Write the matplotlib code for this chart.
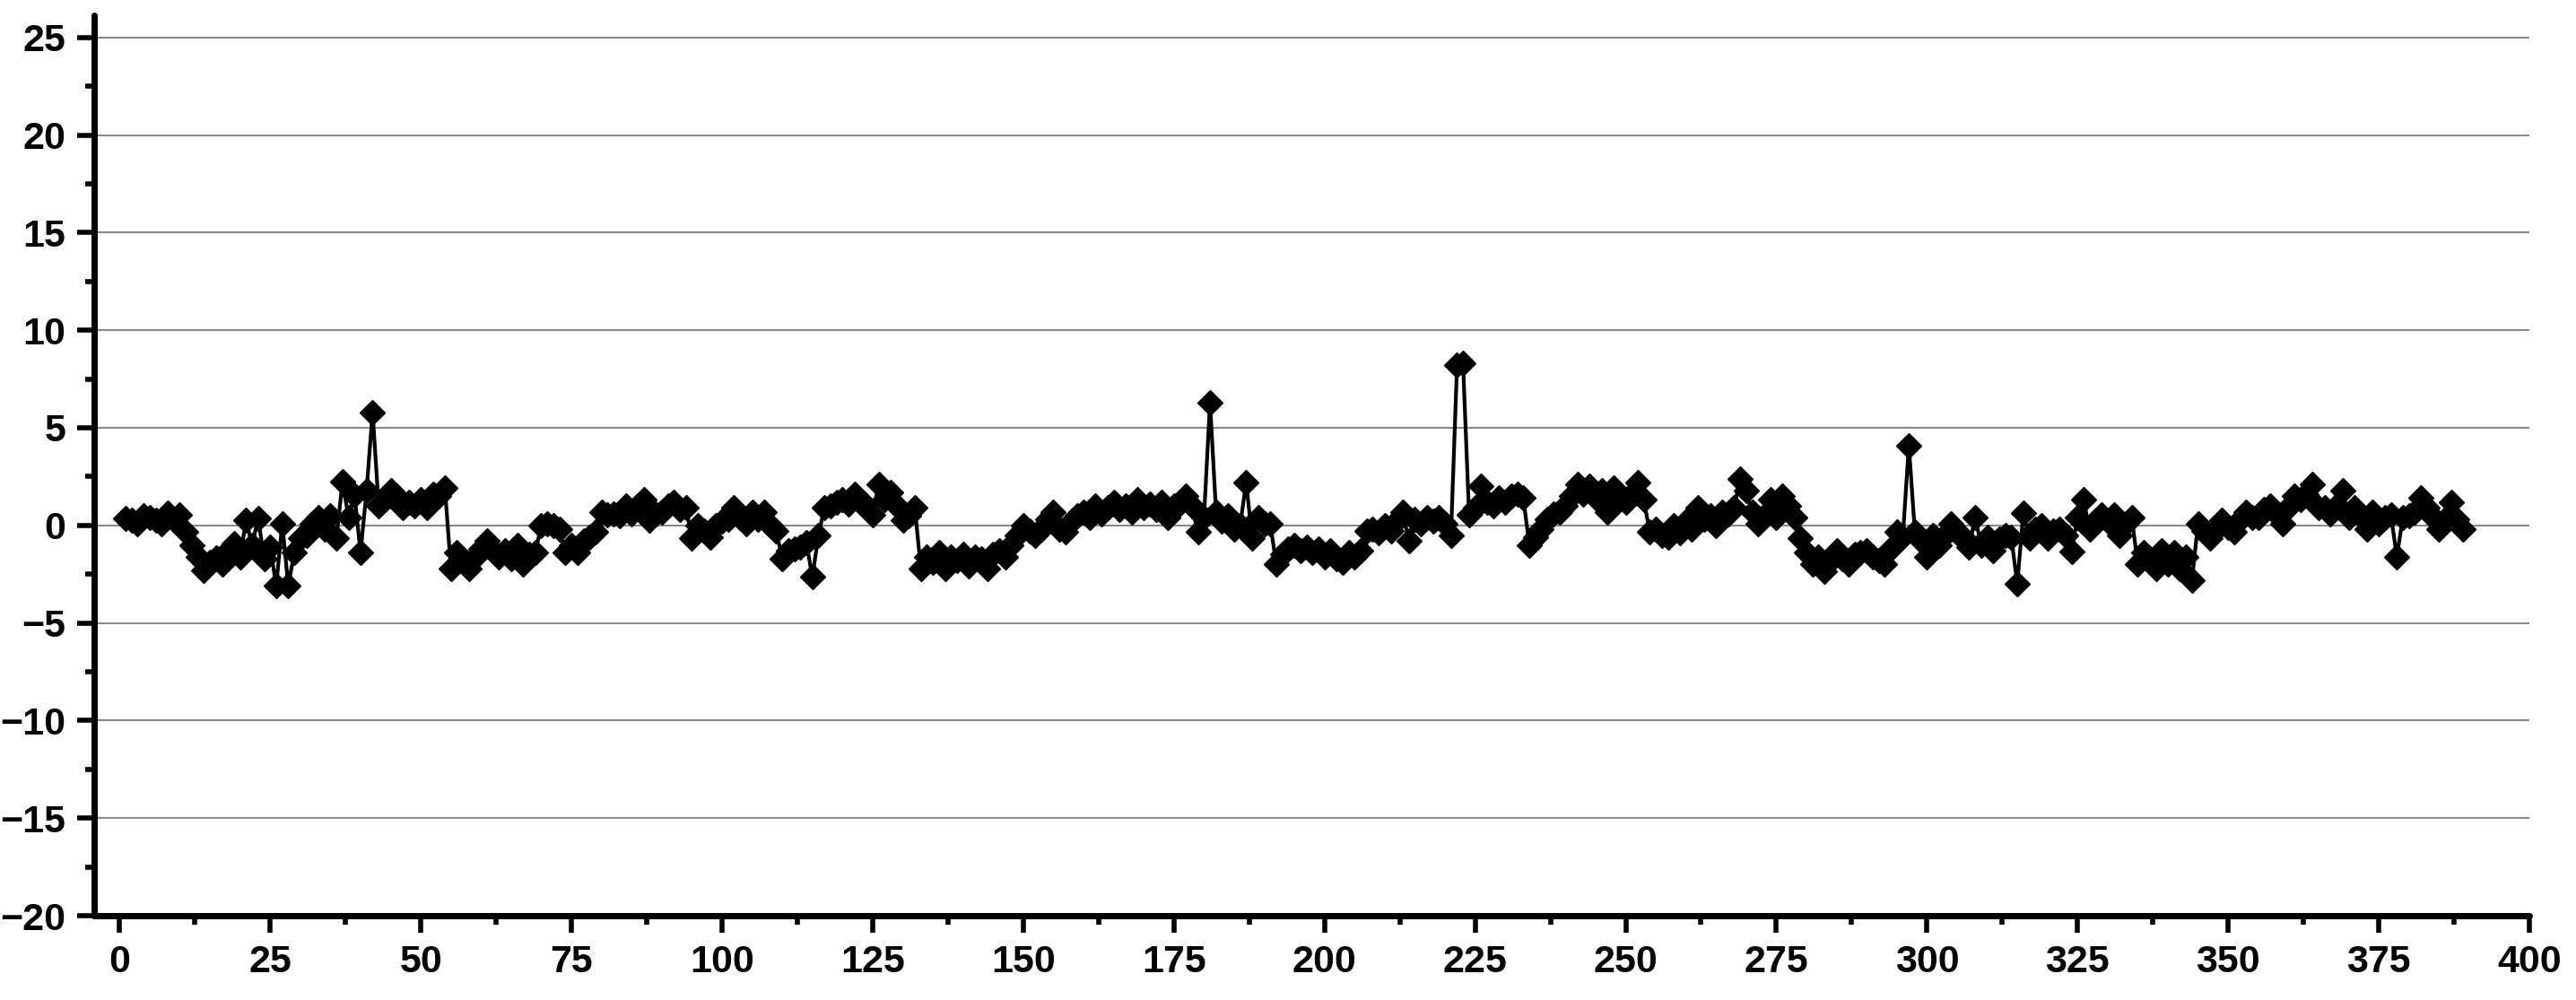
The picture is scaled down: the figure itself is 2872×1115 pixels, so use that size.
import numpy as np
import matplotlib

matplotlib.use("Agg")
import matplotlib.pyplot as plt
from matplotlib.ticker import MultipleLocator

# series values, x = 1..389
values = [
    0.37, 0.26, 0.1, 0.5, 0.4, 0.25, 0.1, 0.65, 0.25, 0.55,
    -0.35, -1.0, -1.6, -2.3, -1.9, -1.65, -2.0, -1.3, -0.95, -1.6,
    0.25, -1.0, 0.35, -1.7, -1.1, -3.1, 0.1, -3.1, -1.4, -0.65,
    -0.5, 0.1, 0.4, -0.2, 0.5, -0.65, 2.25, 0.4, 1.55, -1.4,
    1.8, 5.8, 1.0, 1.3, 1.8, 1.5, 0.9, 1.2, 1.0, 1.3,
    0.9, 1.6, 1.5, 1.9, -2.2, -1.4, -1.8, -2.2, -1.6, -1.2,
    -0.8, -1.3, -1.6, -1.3, -1.7, -1.0, -2.0, -1.5, -1.4, 0.0,
    0.1, 0.0, -0.2, -1.4, -1.0, -1.4, -0.8, -0.6, -0.35, 0.7,
    0.55, 0.6, 0.5, 1.0, 0.6, 1.0, 1.3, 0.25, 0.6, 0.7,
    1.0, 1.2, 0.8, 0.9, -0.65, 0.0, -0.3, -0.6, 0.0, 0.2,
    0.3, 0.9, 0.4, 0.1, 0.7, 0.3, 0.7, 0.0, -0.3, -1.7,
    -1.3, -1.2, -1.1, -0.9, -2.65, -0.5, 0.9, 1.0, 1.2, 1.3,
    1.1, 1.6, 1.2, 1.0, 0.55, 2.1, 1.3, 1.7, 1.0, 0.25,
    0.5, 0.9, -2.2, -1.6, -1.9, -1.4, -2.2, -1.6, -1.8, -1.5,
    -2.1, -1.6, -1.7, -2.2, -1.5, -1.3, -1.6, -1.0, -0.5, 0.0,
    -0.3, -0.5, -0.2, 0.3, 0.7, -0.2, -0.35, 0.2, 0.5, 0.7,
    0.4, 1.0, 0.6, 0.9, 1.2, 0.8, 1.0, 0.7, 1.3, 0.9,
    1.1, 0.8, 1.2, 0.4, 1.0, 1.1, 1.5, 1.0, -0.35, 0.4,
    6.3, 0.7, 0.2, 0.5, -0.2, 0.0, 2.2, -0.65, 0.4, 0.1,
    0.1, -2.0, -1.5, -1.2, -1.0, -1.3, -1.1, -1.4, -1.2, -1.6,
    -1.3, -1.7, -1.9, -1.4, -1.6, -1.3, -0.3, -0.2, -0.4, 0.0,
    -0.3, 0.2, 0.7, -0.8, 0.3, 0.1, 0.4, 0.2, 0.4, 0.1,
    -0.5, 8.2, 8.3, 0.55, 0.9, 2.0, 1.2, 1.0, 1.4, 1.2,
    1.5, 1.6, 1.4, -1.0, -0.6, -0.2, 0.3, 0.6, 0.7, 1.0,
    1.5, 2.1, 1.6, 2.0, 1.4, 1.8, 0.7, 1.9, 1.3, 1.2,
    1.6, 2.2, 1.3, -0.35, -0.2, -0.5, -0.6, 0.0, -0.4, 0.2,
    -0.2, 0.9, 0.3, 0.5, 0.0, 0.7, 0.6, 0.9, 2.4, 1.8,
    0.7, 0.1, 0.5, 1.3, 0.4, 1.5, 1.0, 0.4, -0.65, -1.4,
    -2.0, -1.6, -2.35, -1.8, -1.3, -1.7, -2.0, -1.5, -1.4, -1.3,
    -1.6, -1.8, -2.0, -1.2, -0.35, -0.6, 4.1, -0.35, -0.8, -1.6,
    -0.5, -1.0, -0.5, 0.1, -0.4, -0.6, -1.1, 0.4, -1.0, -0.6,
    -1.3, -0.7, -0.5, -0.6, -3.0, 0.65, -0.65, -0.2, 0.0, -0.65,
    -0.3, -0.2, -0.5, -1.35, 0.4, 1.3, -0.2, 0.2, 0.55, 0.2,
    0.55, -0.5, 0.1, 0.4, -2.0, -1.4, -1.7, -2.2, -1.3, -2.0,
    -1.4, -2.2, -1.6, -2.8, 0.1, -0.3, -0.65, -0.2, 0.25, -0.1,
    -0.35, 0.3, 0.7, 0.4, 0.4, 0.8, 1.0, 0.6, 0.1, 0.9,
    1.5, 1.3, 1.6, 2.1, 0.9, 0.9, 0.6, 1.0, 1.8, 0.4,
    0.9, 0.5, -0.2, 0.7, 0.1, 0.4, 0.55, -1.6, 0.4, 0.5,
    0.7, 1.4, 0.9, 0.4, -0.2, 0.3, 1.2, 0.3, -0.2,
]
x_values = np.arange(1, len(values) + 1)

x_ticks = np.arange(0, 401, 25)
y_ticks = np.arange(-20, 26, 5)

plt.rcParams["font.family"] = ["Liberation Sans", "DejaVu Sans"]
plt.rcParams["font.weight"] = "bold"

fig = plt.figure(figsize=(28.72, 11.15), dpi=100)
ax = fig.add_axes([0.0366, 0.0843, 0.9453, 0.9007])

ax.plot(x_values, values, color="black", lw=3, marker="D", ms=14,
        mfc="black", mec="black", mew=1, zorder=3)

ax.set_xlim(-4.2, 400)
ax.set_ylim(-20, 26.15)
ax.set_xticks(x_ticks)
ax.set_yticks(y_ticks)
ax.xaxis.set_minor_locator(MultipleLocator(12.5))
ax.yaxis.set_minor_locator(MultipleLocator(2.5))

ax.yaxis.grid(True, which="major", color="#8a8a8a", lw=1.5, zorder=0)
ax.set_axisbelow(True)

for side in ("top", "right"):
    ax.spines[side].set_visible(False)
for side in ("left", "bottom"):
    ax.spines[side].set_linewidth(5)
    ax.spines[side].set_capstyle("round")

ax.tick_params(axis="both", which="major", direction="out", length=14, width=4,
               labelsize=31, pad=9)
ax.tick_params(axis="both", which="minor", direction="out", length=7, width=4)
for lab in ax.get_xticklabels() + ax.get_yticklabels():
    lab.set_fontweight("bold")

fig.savefig("out.png", dpi=100)
plt.close(fig)
